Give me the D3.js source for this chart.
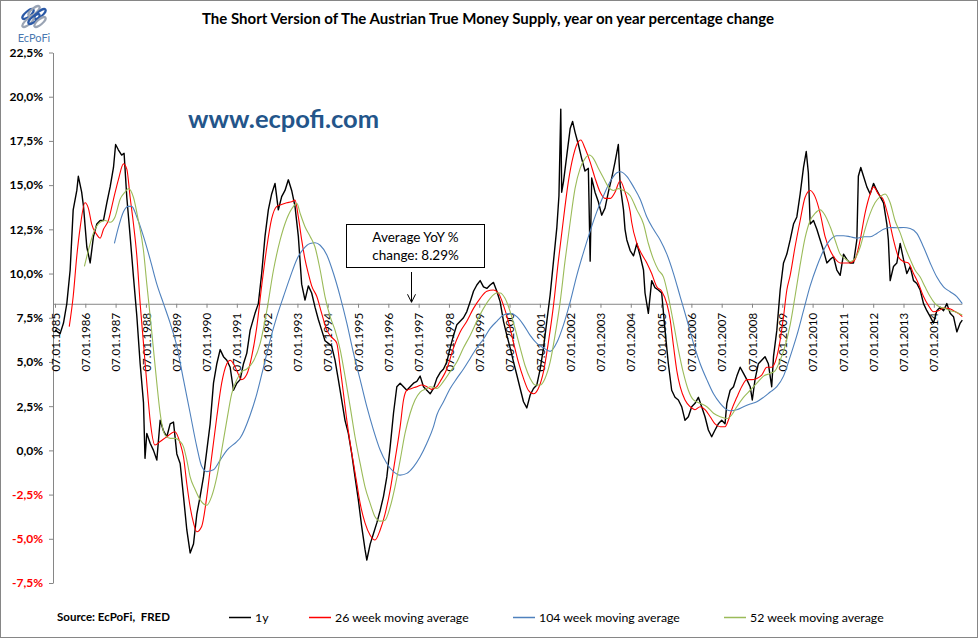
<!DOCTYPE html>
<html><head><meta charset="utf-8">
<script src="https://cdn.jsdelivr.net/npm/d3@7"></script>
<style>body{margin:0;background:#fff}svg{display:block}text{font-family:Lato,"Open Sans",sans-serif}</style>
</head><body><svg id="chart" width="978" height="638"></svg>
<script>
// ---------- data (x = year as decimal) ----------
const yTickValues = [-7.5,-5,-2.5,0,2.5,5,7.5,10,12.5,15,17.5,20,22.5];
const xTickYears = d3.range(1985, 2015);
const averageYoY = 8.29;
const seriesNames = ["1y","26 week moving average","104 week moving average","52 week moving average"];
const seriesColors = ["#000000","#ff0000","#4f81bd","#9bbb59"];

const oneYear = [[1985.00,6.8],[1985.17,6.6],[1985.28,7.2],[1985.39,8.3],[1985.50,10.2],[1985.60,13.6],[1985.72,14.7],[1985.77,15.5],[1985.88,14.6],[1985.94,13.8],[1986.05,11.5],[1986.16,10.6],[1986.27,12.1],[1986.38,12.8],[1986.49,13.0],[1986.60,13.0],[1986.71,14.0],[1986.82,14.9],[1986.93,16.0],[1987.00,17.3],[1987.09,17.0],[1987.20,16.7],[1987.28,16.8],[1987.37,14.3],[1987.48,12.1],[1987.59,9.8],[1987.70,7.6],[1987.81,4.9],[1987.92,2.7],[1987.97,-0.45],[1988.03,0.96],[1988.14,0.4],[1988.25,0.0],[1988.36,-0.55],[1988.47,1.7],[1988.58,1.1],[1988.69,0.77],[1988.80,1.5],[1988.91,1.6],[1989.02,-0.2],[1989.13,-0.74],[1989.24,-2.6],[1989.35,-4.5],[1989.46,-5.8],[1989.57,-5.3],[1989.68,-3.6],[1989.79,-2.6],[1989.90,-1.5],[1990.01,0.0],[1990.12,1.5],[1990.23,3.8],[1990.34,4.9],[1990.45,5.7],[1990.56,5.3],[1990.67,5.1],[1990.78,4.7],[1990.89,3.4],[1991.00,3.8],[1991.11,4.0],[1991.22,4.9],[1991.33,5.5],[1991.44,6.8],[1991.60,7.75],[1991.71,8.3],[1991.82,10.0],[1991.93,12.1],[1992.04,13.6],[1992.15,14.5],[1992.26,15.1],[1992.37,13.6],[1992.48,14.35],[1992.59,14.7],[1992.70,15.3],[1992.81,14.7],[1992.92,13.8],[1993.03,12.1],[1993.14,9.4],[1993.25,8.5],[1993.36,9.3],[1993.47,8.9],[1993.58,8.1],[1993.69,7.4],[1993.80,6.8],[1993.91,6.2],[1994.02,6.05],[1994.13,5.9],[1994.24,5.1],[1994.35,4.0],[1994.46,2.85],[1994.57,1.7],[1994.68,0.96],[1994.79,-0.17],[1994.90,-1.5],[1995.01,-2.8],[1995.12,-4.3],[1995.23,-5.6],[1995.29,-6.2],[1995.40,-5.3],[1995.51,-4.7],[1995.62,-4.1],[1995.73,-3.4],[1995.84,-2.6],[1995.95,-1.5],[1996.06,0.2],[1996.17,2.1],[1996.28,3.6],[1996.39,3.8],[1996.50,3.6],[1996.61,3.4],[1996.72,3.6],[1996.83,3.8],[1996.94,3.9],[1997.05,4.2],[1997.16,3.6],[1997.27,3.4],[1997.38,3.2],[1997.49,3.5],[1997.60,4.07],[1997.71,4.4],[1997.82,4.6],[1997.93,5.0],[1998.04,5.8],[1998.15,6.5],[1998.26,7.1],[1998.37,7.3],[1998.48,7.5],[1998.59,7.85],[1998.70,8.4],[1998.81,9.0],[1998.92,9.35],[1999.03,9.6],[1999.14,9.25],[1999.25,9.16],[1999.36,9.35],[1999.47,9.5],[1999.58,9.0],[1999.69,8.4],[1999.80,7.3],[1999.91,6.5],[2000.02,5.8],[2000.13,5.0],[2000.24,4.26],[2000.35,3.5],[2000.46,2.75],[2000.57,2.4],[2000.68,3.13],[2000.79,3.5],[2000.90,3.7],[2001.01,4.6],[2001.12,5.8],[2001.23,7.3],[2001.34,8.8],[2001.45,10.7],[2001.56,12.6],[2001.63,14.4],[2001.69,19.3],[2001.72,14.6],[2001.78,15.2],[2001.89,16.7],[2002.00,18.2],[2002.08,18.6],[2002.16,18.0],[2002.27,17.3],[2002.38,16.5],[2002.49,15.8],[2002.60,15.95],[2002.66,10.7],[2002.71,15.4],[2002.82,14.6],[2002.93,14.06],[2003.04,13.3],[2003.15,13.7],[2003.26,14.6],[2003.37,15.4],[2003.48,16.3],[2003.59,17.3],[2003.65,15.0],[2003.76,13.6],[2003.81,12.5],[2003.87,11.9],[2003.98,11.3],[2004.09,11.0],[2004.20,11.7],[2004.31,11.0],[2004.42,10.2],[2004.47,8.9],[2004.58,7.75],[2004.69,9.6],[2004.80,9.2],[2004.91,9.07],[2005.02,8.9],[2005.13,6.8],[2005.24,4.9],[2005.35,3.4],[2005.46,3.0],[2005.57,2.85],[2005.68,2.47],[2005.79,1.7],[2005.90,1.9],[2006.01,2.47],[2006.12,2.66],[2006.23,3.0],[2006.34,2.47],[2006.45,1.9],[2006.56,1.15],[2006.67,0.77],[2006.78,1.15],[2006.89,1.5],[2007.00,1.7],[2007.11,1.5],[2007.17,2.66],[2007.28,3.4],[2007.39,3.6],[2007.50,4.2],[2007.61,4.7],[2007.72,4.35],[2007.83,4.0],[2007.94,3.6],[2008.01,2.85],[2008.10,4.0],[2008.21,4.9],[2008.32,5.1],[2008.43,5.3],[2008.54,4.9],[2008.65,3.6],[2008.71,5.3],[2008.82,6.8],[2008.93,9.07],[2009.04,10.6],[2009.15,11.1],[2009.26,11.9],[2009.37,12.8],[2009.48,13.2],[2009.59,14.5],[2009.70,16.0],[2009.79,16.9],[2009.86,15.7],[2009.92,12.8],[2010.03,13.0],[2010.14,12.5],[2010.25,11.9],[2010.36,11.3],[2010.47,10.6],[2010.58,10.8],[2010.69,10.95],[2010.80,10.2],[2010.91,9.9],[2011.02,11.1],[2011.13,10.8],[2011.24,10.6],[2011.35,10.6],[2011.46,11.9],[2011.51,15.5],[2011.59,16.0],[2011.68,15.5],[2011.79,14.9],[2011.90,14.5],[2012.01,15.1],[2012.12,14.7],[2012.23,14.35],[2012.34,14.0],[2012.45,12.8],[2012.50,11.9],[2012.56,9.6],[2012.67,10.4],[2012.78,10.6],[2012.89,11.7],[2013.00,10.8],[2013.11,10.0],[2013.22,10.4],[2013.33,9.6],[2013.44,9.44],[2013.55,9.07],[2013.66,8.3],[2013.77,7.9],[2013.88,7.56],[2013.99,7.2],[2014.10,7.9],[2014.21,8.1],[2014.32,7.9],[2014.43,8.3],[2014.54,7.75],[2014.65,7.56],[2014.76,6.7],[2014.87,7.2],[2014.94,7.37]];

const ma26 = [[1985.47,7.0],[1985.60,8.7],[1985.72,11.0],[1985.83,12.6],[1985.99,14.0],[1986.10,13.7],[1986.21,12.8],[1986.38,12.2],[1986.49,12.0],[1986.60,12.5],[1986.76,13.0],[1986.93,14.2],[1987.09,15.3],[1987.26,16.2],[1987.37,15.9],[1987.48,14.3],[1987.59,12.8],[1987.70,11.0],[1987.81,8.3],[1987.92,6.05],[1988.03,3.8],[1988.14,1.7],[1988.30,0.3],[1988.47,0.5],[1988.69,0.77],[1988.96,1.05],[1989.13,0.4],[1989.24,-0.36],[1989.35,-1.9],[1989.46,-3.2],[1989.57,-4.1],[1989.68,-4.6],[1989.84,-4.3],[1990.01,-2.6],[1990.17,-0.36],[1990.34,1.9],[1990.50,3.8],[1990.67,4.9],[1990.78,5.1],[1990.89,4.9],[1991.00,4.5],[1991.16,4.0],[1991.33,4.3],[1991.49,5.3],[1991.66,7.0],[1991.82,9.3],[1991.99,11.5],[1992.15,13.1],[1992.32,13.8],[1992.48,13.9],[1992.65,14.0],[1992.81,14.06],[1992.92,14.15],[1993.03,13.2],[1993.14,11.9],[1993.25,10.8],[1993.36,10.0],[1993.47,9.3],[1993.64,8.7],[1993.80,7.75],[1993.97,6.8],[1994.13,6.4],[1994.30,6.05],[1994.41,4.7],[1994.52,3.2],[1994.63,1.7],[1994.74,0.4],[1994.85,-0.74],[1994.96,-1.87],[1995.07,-3.0],[1995.23,-4.1],[1995.40,-4.8],[1995.56,-5.07],[1995.73,-4.5],[1995.89,-3.6],[1996.06,-2.25],[1996.22,-0.55],[1996.39,1.34],[1996.50,2.85],[1996.61,3.4],[1996.77,3.5],[1996.94,3.6],[1997.10,3.7],[1997.27,3.6],[1997.43,3.45],[1997.60,3.6],[1997.71,3.9],[1997.93,4.6],[1998.15,5.8],[1998.37,6.7],[1998.59,7.3],[1998.81,8.03],[1999.03,8.6],[1999.25,9.0],[1999.47,9.07],[1999.63,8.9],[1999.80,8.2],[1999.96,7.3],[2000.13,6.1],[2000.29,5.0],[2000.46,4.07],[2000.62,3.4],[2000.79,3.2],[2000.95,3.5],[2001.12,4.45],[2001.28,6.1],[2001.45,8.2],[2001.61,10.7],[2001.78,13.1],[2001.94,15.2],[2002.11,16.7],[2002.27,17.46],[2002.35,17.55],[2002.49,17.08],[2002.66,16.3],[2002.82,15.4],[2002.99,14.6],[2003.15,14.25],[2003.32,14.25],[2003.48,14.6],[2003.65,15.25],[2003.81,14.6],[2003.98,13.5],[2004.03,12.9],[2004.20,11.7],[2004.36,11.1],[2004.53,10.6],[2004.69,10.0],[2004.86,9.25],[2005.02,9.0],[2005.19,8.3],[2005.30,7.4],[2005.41,5.9],[2005.52,4.5],[2005.63,3.6],[2005.79,2.85],[2005.96,2.47],[2006.12,2.3],[2006.29,2.47],[2006.45,2.3],[2006.62,1.9],[2006.78,1.5],[2006.95,1.34],[2007.11,1.34],[2007.22,1.7],[2007.33,2.3],[2007.50,3.0],[2007.66,3.6],[2007.83,4.0],[2007.99,4.0],[2008.16,4.07],[2008.32,4.26],[2008.49,4.7],[2008.65,4.7],[2008.82,5.3],[2008.93,6.24],[2009.04,7.56],[2009.15,9.07],[2009.26,9.9],[2009.42,11.5],[2009.59,13.0],[2009.75,14.3],[2009.92,14.7],[2010.08,14.35],[2010.25,13.4],[2010.41,12.1],[2010.58,11.3],[2010.74,10.85],[2010.91,10.6],[2011.07,10.6],[2011.24,10.6],[2011.40,10.8],[2011.57,11.9],[2011.73,13.4],[2011.90,14.5],[2012.01,14.9],[2012.17,14.5],[2012.34,14.15],[2012.50,13.2],[2012.67,11.9],[2012.83,10.95],[2013.00,10.67],[2013.16,10.6],[2013.33,10.0],[2013.49,9.44],[2013.66,8.7],[2013.82,8.2],[2013.99,7.84],[2014.15,7.9],[2014.32,8.03],[2014.48,8.03],[2014.65,7.9],[2014.81,7.75],[2014.94,7.56]];

const ma104 = [[1986.96,11.7],[1987.09,12.6],[1987.26,13.5],[1987.42,13.8],[1987.53,13.8],[1987.70,13.2],[1987.92,12.1],[1988.14,10.8],[1988.36,9.4],[1988.58,8.3],[1988.80,7.2],[1989.02,5.9],[1989.24,4.0],[1989.46,2.1],[1989.68,0.2],[1989.84,-0.9],[1990.01,-1.2],[1990.23,-1.1],[1990.45,-0.55],[1990.67,0.0],[1991.00,0.5],[1991.11,0.7],[1991.44,2.0],[1991.66,3.2],[1991.88,4.7],[1992.10,6.24],[1992.32,7.56],[1992.54,8.7],[1992.76,9.8],[1992.98,10.8],[1993.20,11.4],[1993.42,11.7],[1993.58,11.74],[1993.75,11.6],[1993.97,11.05],[1994.19,10.0],[1994.41,8.7],[1994.63,7.2],[1994.85,5.5],[1995.07,4.0],[1995.29,2.47],[1995.51,1.15],[1995.73,0.02],[1995.95,-0.74],[1996.17,-1.2],[1996.39,-1.4],[1996.61,-1.3],[1996.83,-0.93],[1997.05,-0.36],[1997.27,0.4],[1997.49,1.34],[1997.60,2.0],[1997.82,2.75],[1998.04,3.5],[1998.26,4.07],[1998.48,4.6],[1998.70,5.2],[1998.92,5.8],[1999.14,6.3],[1999.36,6.9],[1999.58,7.3],[1999.80,7.65],[2000.02,7.75],[2000.24,7.56],[2000.46,7.1],[2000.68,6.5],[2000.90,6.05],[2001.12,5.8],[2001.34,5.6],[2001.56,6.1],[2001.78,7.1],[2002.00,8.4],[2002.22,9.9],[2002.44,11.2],[2002.66,12.4],[2002.88,13.5],[2003.10,14.4],[2003.32,15.2],[2003.54,15.7],[2003.65,15.76],[2003.87,15.5],[2004.09,14.9],[2004.31,14.2],[2004.53,13.2],[2004.75,12.5],[2004.97,11.9],[2005.19,11.1],[2005.41,10.0],[2005.63,8.7],[2005.85,7.4],[2006.07,6.05],[2006.29,4.9],[2006.51,4.0],[2006.73,3.2],[2006.95,2.66],[2007.17,2.3],[2007.28,2.24],[2007.50,2.3],[2007.72,2.47],[2007.94,2.62],[2008.16,2.75],[2008.38,3.0],[2008.60,3.3],[2008.82,3.6],[2009.04,4.2],[2009.26,5.3],[2009.48,6.5],[2009.70,7.9],[2009.92,9.3],[2010.14,10.4],[2010.36,11.3],[2010.58,11.9],[2010.80,12.14],[2011.02,12.14],[2011.24,12.08],[2011.46,12.0],[2011.68,12.08],[2011.90,12.08],[2012.12,12.27],[2012.34,12.5],[2012.56,12.6],[2012.78,12.59],[2013.00,12.6],[2013.22,12.55],[2013.44,12.27],[2013.66,11.5],[2013.88,10.6],[2014.10,9.8],[2014.32,9.25],[2014.54,8.97],[2014.76,8.7],[2014.94,8.3]];

const ma52 = [[1985.97,10.4],[1986.10,11.3],[1986.27,12.3],[1986.49,12.9],[1986.65,13.0],[1986.82,12.9],[1986.98,13.2],[1987.15,14.2],[1987.31,14.6],[1987.42,14.8],[1987.59,14.3],[1987.75,13.0],[1987.92,11.3],[1988.03,9.4],[1988.14,7.6],[1988.25,5.7],[1988.36,3.8],[1988.47,2.1],[1988.63,0.87],[1988.80,0.68],[1988.96,0.68],[1989.13,0.5],[1989.24,0.2],[1989.35,-0.55],[1989.46,-1.5],[1989.62,-2.2],[1989.79,-2.8],[1990.01,-3.1],[1990.17,-2.6],[1990.34,-1.5],[1990.50,0.0],[1990.67,1.7],[1990.83,3.2],[1991.00,4.0],[1991.16,4.45],[1991.33,4.6],[1991.55,5.05],[1991.77,6.05],[1991.99,7.9],[1992.21,10.2],[1992.43,11.9],[1992.65,13.1],[1992.87,13.8],[1992.98,13.97],[1993.09,13.4],[1993.25,12.65],[1993.42,12.1],[1993.58,11.5],[1993.75,10.2],[1993.91,8.7],[1994.08,7.56],[1994.24,6.8],[1994.41,5.7],[1994.57,4.2],[1994.74,2.47],[1994.90,0.77],[1995.07,-0.74],[1995.23,-2.06],[1995.40,-3.0],[1995.56,-3.75],[1995.73,-4.0],[1995.89,-3.95],[1996.06,-3.2],[1996.22,-2.06],[1996.39,-0.55],[1996.55,0.96],[1996.72,2.1],[1996.88,2.85],[1997.05,3.3],[1997.27,3.5],[1997.38,3.6],[1997.60,3.5],[1997.82,3.9],[1998.04,4.45],[1998.26,5.0],[1998.48,5.8],[1998.70,6.5],[1998.92,7.3],[1999.14,8.03],[1999.36,8.6],[1999.58,8.9],[1999.69,8.9],[1999.85,8.6],[2000.02,7.85],[2000.18,6.9],[2000.35,5.8],[2000.51,4.8],[2000.68,4.07],[2000.84,3.7],[2001.01,3.7],[2001.17,4.07],[2001.34,5.0],[2001.50,6.5],[2001.67,8.4],[2001.83,10.7],[2002.00,12.9],[2002.16,14.8],[2002.33,15.95],[2002.49,16.5],[2002.63,16.7],[2002.77,16.5],[2002.93,15.95],[2003.10,15.4],[2003.26,14.9],[2003.43,14.7],[2003.59,14.8],[2003.76,14.7],[2003.98,14.4],[2004.20,13.6],[2004.42,12.8],[2004.58,11.7],[2004.75,10.8],[2004.91,10.2],[2005.08,9.8],[2005.24,8.7],[2005.41,7.2],[2005.57,5.7],[2005.74,4.35],[2005.90,3.4],[2006.07,2.85],[2006.29,2.66],[2006.51,2.47],[2006.73,2.1],[2006.95,1.9],[2007.17,1.8],[2007.33,2.0],[2007.50,2.47],[2007.72,3.0],[2007.94,3.4],[2008.16,3.8],[2008.38,4.2],[2008.60,4.35],[2008.76,4.5],[2008.93,5.1],[2009.09,5.9],[2009.26,7.1],[2009.42,8.7],[2009.59,10.5],[2009.75,12.0],[2009.92,13.0],[2010.08,13.4],[2010.25,13.6],[2010.41,13.3],[2010.58,12.65],[2010.74,11.9],[2010.91,11.1],[2011.07,10.85],[2011.24,10.67],[2011.40,10.85],[2011.57,11.5],[2011.73,12.5],[2011.90,13.4],[2012.06,14.0],[2012.23,14.35],[2012.39,14.5],[2012.56,14.0],[2012.72,13.0],[2012.89,12.3],[2013.05,11.5],[2013.22,10.8],[2013.38,10.2],[2013.55,9.8],[2013.71,9.25],[2013.88,8.7],[2014.04,8.3],[2014.21,8.1],[2014.37,8.03],[2014.54,7.9],[2014.70,7.84],[2014.94,7.65]];

// ---------- drawing ----------
const svg = d3.select("#chart");
const W = 978, H = 638;

svg.append("rect").attr("x",0.5).attr("y",0.5).attr("width",W-1).attr("height",H-1)
  .attr("fill","#fff").attr("stroke","#868686");

const x = d3.scaleLinear().domain([1985, 2014.94]).range([55, 962.3]);
const y = d3.scaleLinear().domain([-7.5, 22.5]).range([583, 52.5]);

// logo
const logo = svg.append("g").attr("transform","translate(34,19)");
[[-6,-5,"#2b59a6"],[0,-8,"#9aa4b4"],[6,-5,"#2b59a6"],[-6,3,"#9aa4b4"],[0,0,"#2b59a6"],[6,3,"#9aa4b4"]].forEach(d=>{
  logo.append("ellipse").attr("cx",d[0]).attr("cy",d[1]).attr("rx",7).attr("ry",2.6)
    .attr("transform",`rotate(-40,${d[0]},${d[1]})`).attr("fill","none").attr("stroke",d[2]).attr("stroke-width",2.2);
});
svg.append("text").attr("x",34).attr("y",42).attr("text-anchor","middle")
  .attr("font-size",11).attr("fill","#4a78b0").text("EcPoFi");

// title
svg.append("text").attr("x",488).attr("y",24).attr("text-anchor","middle")
  .attr("font-size",15).attr("font-weight","bold").attr("fill","#000")
  .text("The Short Version of The Austrian True Money Supply, year on year percentage change");

// watermark
svg.append("text").attr("x",188).attr("y",128).attr("font-size",25.5).attr("font-weight","bold")
  .attr("fill","#23558a").text("www.ecpofi.com");

// y axis
const yAxis = svg.append("g").attr("transform","translate(53,0)")
  .call(d3.axisLeft(y).tickValues(yTickValues).tickSize(4).tickSizeOuter(0)
    .tickFormat(d => d.toFixed(1).replace(".", ",") + "%"));
yAxis.select(".domain").attr("stroke","#868686");
yAxis.selectAll(".tick line").attr("stroke","#868686");
yAxis.selectAll(".tick text").attr("x",-10).attr("font-family","Lato").attr("font-size",12)
  .attr("font-weight","bold").attr("fill", d => d < 0 ? "#ff0000" : "#000");

// x axis at the average line
const xAxis = svg.append("g").attr("transform",`translate(0,${y(averageYoY)})`)
  .call(d3.axisBottom(x).tickValues(xTickYears).tickSize(4).tickSizeOuter(0)
    .tickFormat(d => "07.01." + d));
xAxis.select(".domain").attr("stroke","#868686").attr("d",`M53,0.5H962.3`);
xAxis.selectAll(".tick line").attr("stroke","#868686");
xAxis.selectAll(".tick text").attr("font-family","Lato").attr("font-size",11.5).attr("fill","#000")
  .attr("text-anchor","end").attr("transform","rotate(-90)")
  .attr("x",-9).attr("y",0).attr("dy","0.36em");

// lines
const line = d3.line().x(d => x(d[0])).y(d => y(d[1]));
const smooth = d3.line().x(d => x(d[0])).y(d => y(d[1])).curve(d3.curveMonotoneX);
const plot = svg.append("g");
plot.append("path").datum(oneYear).attr("d",line).attr("fill","none")
  .attr("stroke",seriesColors[0]).attr("stroke-width",1.4).attr("stroke-linejoin","round");
plot.append("path").datum(ma26).attr("d",smooth).attr("fill","none").attr("stroke",seriesColors[1]).attr("stroke-width",1.1);
plot.append("path").datum(ma104).attr("d",smooth).attr("fill","none").attr("stroke",seriesColors[2]).attr("stroke-width",1.1);
plot.append("path").datum(ma52).attr("d",smooth).attr("fill","none").attr("stroke",seriesColors[3]).attr("stroke-width",1.1);

// annotation
const ann = svg.append("g");
ann.append("rect").attr("x",346.5).attr("y",224.5).attr("width",138).attr("height",43)
  .attr("fill","#fff").attr("stroke","#000").attr("stroke-width",1);
ann.append("text").attr("x",415.5).attr("y",242).attr("text-anchor","middle").attr("font-size",13.5)
  .text("Average YoY %");
ann.append("text").attr("x",415.5).attr("y",260).attr("text-anchor","middle").attr("font-size",13.5)
  .text("change: " + averageYoY.toFixed(2) + "%");
const ax = 411.5, ay = y(averageYoY) - 1.5;
ann.append("path").attr("d",`M${ax},272V${ay}M${ax-4},${ay-8}L${ax},${ay}L${ax+4},${ay-8}`)
  .attr("fill","none").attr("stroke","#000").attr("stroke-width",1);

// source + legend
svg.append("text").attr("x",57).attr("y",621).attr("font-size",11.5).attr("font-weight","bold")
  .text("Source: EcPoFi,\u00a0\u00a0FRED");
const legendX = [229, 309, 513, 724];
const lg = svg.append("g");
seriesNames.forEach((n,i) => {
  lg.append("line").attr("x1",legendX[i]).attr("x2",legendX[i]+22).attr("y1",617.5).attr("y2",617.5)
    .attr("stroke",seriesColors[i]).attr("stroke-width",1.5);
  lg.append("text").attr("x",legendX[i]+26).attr("y",621.5).attr("font-size",12.3).text(n);
});
</script></body></html>
